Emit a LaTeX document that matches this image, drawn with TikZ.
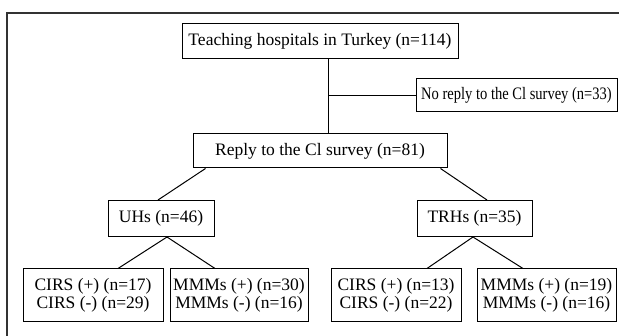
\documentclass[tikz,border=0pt]{standalone}
\usepackage{fontspec}
\setmainfont{Liberation Serif}

\tikzset{
  box/.style={draw, line width=1pt, inner sep=0pt, align=center,
    font=\fontsize{17.5}{18}\selectfont},
  link/.style={line width=1pt},
}

\begin{document}
\begin{tikzpicture}[x=1pt, y=-1pt]
	\useasboundingbox (0,0) rectangle (619,336);

			% frame
			\draw [line width=1.3pt, black!80] (7,336) -- (7,13) -- (619,13);

			% top
			\node [box, minimum width=276pt, minimum height=35pt] (hosp) at (320,41.5) {Teaching hospitals in Turkey (n=114)};
			\node [box, minimum width=201pt, minimum height=33pt,
				font=\fontsize{17.5}{18}\selectfont\addfontfeatures{FakeStretch=0.83}] (noreply) at (516.5,95.5) {No reply to the Cl survey (n=33)};
			\node [box, minimum width=254pt, minimum height=34pt] (reply) at (320,151) {Reply to the Cl survey (n=81)};

			% hospital types
			\foreach \m/\x/\w/\l in {uhs/161/106/{UHs (n=46)}, trhs/474.5/115/{TRHs (n=35)}}
				\node [box, minimum width=\w pt, minimum height=36pt] (\m) at (\x,218.5) {\l};

			% results
			\foreach \m/\x/\w/\l in {
					cirsA/93/140/{CIRS (+) (n=17)\\CIRS (-) (n=29)},
					mmmA/239/138/{MMMs (+) (n=30)\\MMMs (-) (n=16)},
					cirsB/396/130/{CIRS (+) (n=13)\\CIRS (-) (n=22)},
					mmmB/546.5/139/{MMMs (+) (n=19)\\MMMs (-) (n=16)}}
				\node [box, minimum width=\w pt, minimum height=53pt] (\m) at (\x,295.5) {\l};

			% lines from top to reply
			\coordinate (split) at (328,95.5);
			\draw [link] (hosp.south -| split) -- (reply.north -| split);
			\draw [link] (split) -- (noreply.west);

			% lines from reply to hospital types
			\draw [link] ([xshift=13pt]reply.south west) -- ([xshift=-3pt]uhs.north);
			\draw [link] ([xshift=-7pt]reply.south east) -- ([xshift=12.5pt]trhs.north);

			% lines from hospital types to results
			\draw [link] ([xshift=25pt]cirsA.north) -- ([xshift=6pt]uhs.south) -- ([xshift=-24pt]mmmA.north);
			\draw [link] ([xshift=31pt]cirsB.north) -- ([xshift=-1.5pt]trhs.south) -- ([xshift=-23.5pt]mmmB.north);

\end{tikzpicture}
\end{document}
